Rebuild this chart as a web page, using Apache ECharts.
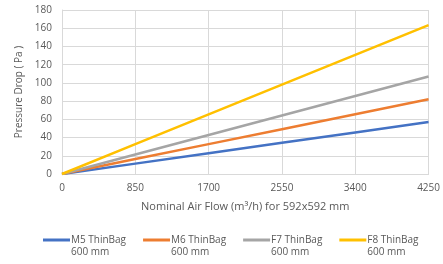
<!DOCTYPE html>
<html lang="en">
  <head>
    <meta charset="utf-8" />
    <title>Pressure Drop</title>
    <style>
      * {
        margin: 0;
        padding: 0;
      }

      #chart-container {
        position: relative;
        width: 443px;
        height: 264px;
        overflow: hidden;
        background: #fff;
      }
    </style>
  </head>

  <body>
    <div id="chart-container"></div>
    <script src="https://cdn.jsdelivr.net/npm/echarts@6/dist/echarts.min.js"></script>
    <script>
      var airFlow = [0, 850, 1700, 2550, 3400, 4250];
      var seriesNames = [
        "M5 ThinBag\n600 mm",
        "M6 ThinBag\n600 mm",
        "F7 ThinBag\n600 mm",
        "F8 ThinBag\n600 mm",
      ];
      var m5 = [0, 11.4, 22.8, 34.2, 45.6, 57];
      var m6 = [0, 16.4, 32.8, 49.2, 65.6, 82];
      var f7 = [0, 21.4, 42.8, 64.2, 85.6, 107];
      var f8 = [0, 32.7, 65.4, 98.1, 130.8, 163.5];
      var colors = ["#4472C4", "#ED7D31", "#A5A5A5", "#FFC000"];

      var dom = document.getElementById("chart-container");
      var myChart = echarts.init(dom, null, { renderer: "canvas" });

      var font = "'Open Sans', sans-serif";
      var labelColor = "#595959";
      var gridColor = "#D9D9D9";

      function pairs(values) {
        return values.map(function (v, i) {
          return [airFlow[i], v];
        });
      }

      var option = {
        animation: false,
        color: colors,
        textStyle: { fontFamily: font },
        grid: {
          left: 62,
          right: 12,
          top: 10,
          bottom: 90,
        },
        xAxis: {
          type: "value",
          min: 0,
          max: 4250,
          interval: 850,
          name: "Nominal Air Flow (m³/h) for 592x592 mm",
          nameLocation: "middle",
          nameGap: 27,
          nameTextStyle: { color: labelColor, fontSize: 11, fontFamily: font },
          axisLine: { show: true, lineStyle: { color: gridColor } },
          axisTick: { show: false },
          axisLabel: {
            color: labelColor,
            fontSize: 10,
            fontFamily: font,
            margin: 9,
            formatter: function (v) {
              return String(v);
            },
          },
          splitLine: { show: true, lineStyle: { color: gridColor } },
        },
        yAxis: {
          type: "value",
          min: 0,
          max: 180,
          interval: 20,
          name: "Pressure Drop ( Pa )",
          nameLocation: "middle",
          nameRotate: 90,
          nameGap: 33,
          nameTextStyle: { color: labelColor, fontSize: 10, fontFamily: font },
          axisLine: { show: true, lineStyle: { color: gridColor } },
          axisTick: { show: false },
          axisLabel: { color: labelColor, fontSize: 10, fontFamily: font, margin: 10 },
          splitLine: { show: true, lineStyle: { color: gridColor } },
        },
        legend: {
          left: 43,
          top: 222,
          padding: 0,
          itemWidth: 27,
          itemHeight: 3,
          itemGap: 17,
          icon: "rect",
          formatter: function (name) {
            return "\n" + name;
          },
          textStyle: {
            color: labelColor,
            fontSize: 10,
            fontFamily: font,
            lineHeight: 12,
            padding: [0, 0, 0, -4],
          },
          data: seriesNames,
        },
        series: [m5, m6, f7, f8].map(function (vals, i) {
          return {
            name: seriesNames[i],
            type: "line",
            symbol: "none",
            lineStyle: { width: 2.5, color: colors[i] },
            data: pairs(vals),
          };
        }),
      };

      myChart.setOption(option);
    </script>
  </body>
</html>
